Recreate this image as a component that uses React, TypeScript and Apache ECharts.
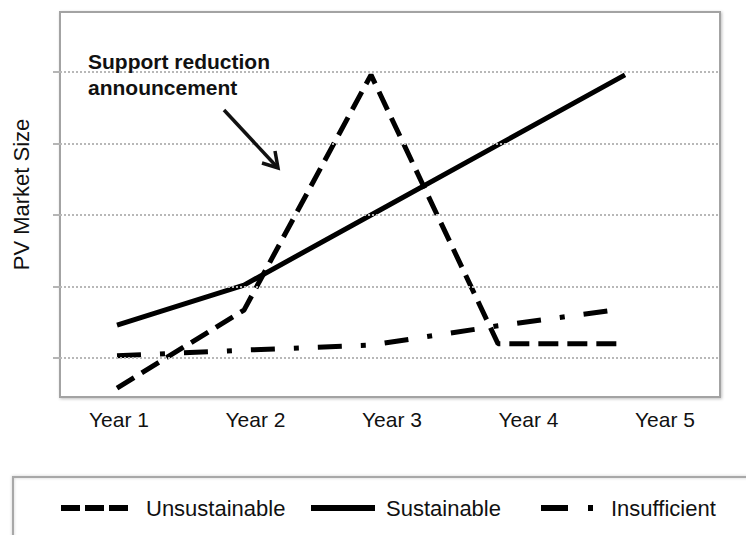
import React, { useEffect, useRef } from "react";
import * as echarts from "echarts";

const yearLabels = ["Year 1", "Year 2", "Year 3", "Year 4", "Year 5"];
const yearPositions = [1, 2, 3, 4, 5];
const unsustainable = [0.58, 1.67, 4.96, 1.2, 1.2];
const sustainable = [1.46, 2.02, 3.0, 3.98, 4.96];
const insufficient = [1.03, 1.11, 1.18, 1.45, 1.69];
const gridValues = [1, 2, 3, 4, 5];
const seriesNames = ["Unsustainable", "Sustainable", "Insufficient"];
const annotationText = "Support reduction\nannouncement";
const yAxisName = "PV Market Size";

const FONT = "'Liberation Sans', Arial, sans-serif";
const TEXT = "#111";

export default function App() {
  const ref = useRef<HTMLDivElement>(null);

  useEffect(() => {
    if (!ref.current) return;
    const chart = echarts.init(ref.current, undefined, { renderer: "svg" });
    const pts = (vals: number[]) => yearPositions.map((x, i) => [x, vals[i]]);
    const legendBase = (name: string, left: number, w: number, dash: any, padLeft: number) => ({
      data: [name],
      left,
      top: 497,
      padding: 0,
      itemGap: 0,
      itemWidth: w,
      itemHeight: 22,
      selectedMode: false,
      itemStyle: { opacity: 0, borderWidth: 0 },
      lineStyle: { type: dash, width: 6, color: "#000", cap: "butt", opacity: 1 },
      textStyle: { fontSize: 22, color: TEXT, fontFamily: FONT, padding: [0, 0, 0, padLeft] },
    });
    chart.setOption({
      animation: false,
      backgroundColor: "#fff",
      grid: {
        left: 60,
        right: 26,
        top: 12,
        bottom: 138,
        show: true,
        backgroundColor: "#fff",
        borderColor: "#a3a3a3",
        borderWidth: 2,
        shadowColor: "rgba(0,0,0,0.25)",
        shadowBlur: 3,
        shadowOffsetX: 1,
        shadowOffsetY: 1,
      },
      xAxis: [
        { type: "value", min: 0.551, max: 5.748, show: false },
        {
          type: "value",
          min: 0.568,
          max: 5.403,
          position: "bottom",
          axisLine: { show: false },
          axisTick: { show: false },
          splitLine: { show: false },
          axisLabel: {
            customValues: yearPositions,
            formatter: (v: number) => yearLabels[Math.round(v) - 1] ?? "",
            margin: 12,
            fontSize: 21,
            color: TEXT,
            fontFamily: FONT,
          },
        },
      ],
      yAxis: {
        type: "value",
        min: 0.4545,
        max: 5.839,
        axisLine: { show: false },
        axisLabel: { show: false },
        splitLine: { show: false },
        axisTick: { show: true, customValues: gridValues, length: 7, lineStyle: { color: "#b5b5b5", width: 2 } },
        name: yAxisName,
        nameLocation: "middle",
        nameGap: 28,
        nameTextStyle: { fontSize: 22, color: TEXT, fontFamily: FONT, padding: [0, 0, 0, 20] },
      },
      legend: [
        legendBase(seriesNames[0], 58, 67, [19, 5], 13),
        legendBase(seriesNames[1], 308, 64, "solid", 6),
        legendBase(seriesNames[2], 538, 52, [27, 20, 5, 20], 13),
      ],
      graphic: [
        {
          type: "rect",
          shape: { x: 13, y: 477, width: 820, height: 120 },
          style: { fill: "none", stroke: "#a8a8a8", lineWidth: 2, shadowColor: "rgba(0,0,0,0.2)", shadowBlur: 3 },
          silent: true,
          z: 0,
        },
        {
          type: "text",
          x: 88,
          y: 48,
          style: {
            text: annotationText,
            font: `bold 21px ${FONT}`,
            fill: TEXT,
            lineHeight: 26,
          },
          z: 10,
        },
        {
          type: "line",
          shape: { x1: 224, y1: 110, x2: 277, y2: 167 },
          style: { stroke: "#111", lineWidth: 3.5 },
          z: 10,
        },
        {
          type: "polyline",
          shape: { points: [[262, 163], [278, 168], [275, 151]] },
          style: { stroke: "#111", lineWidth: 3.5, fill: "none" },
          z: 10,
        },
      ],
      series: [
        {
          name: "gridlines",
          type: "line",
          data: [],
          z: 1,
          markLine: {
            silent: true,
            symbol: ["none", "none"],
            label: { show: false },
            lineStyle: { type: "dotted", color: "#b8b8b8", width: 2 },
            data: gridValues.map((v) => ({ yAxis: v })),
          },
        },
        {
          name: seriesNames[0],
          type: "line",
          xAxisIndex: 0,
          data: pts(unsustainable),
          symbol: "none",
          color: "#000",
          lineStyle: { color: "#000", width: 5, type: [20, 9] },
          z: 3,
        },
        {
          name: seriesNames[1],
          type: "line",
          xAxisIndex: 0,
          data: pts(sustainable),
          symbol: "none",
          color: "#000",
          lineStyle: { color: "#000", width: 5, type: "solid" },
          z: 3,
        },
        {
          name: seriesNames[2],
          type: "line",
          xAxisIndex: 0,
          data: pts(insufficient),
          symbol: "none",
          color: "#000",
          lineStyle: { color: "#000", width: 5, type: [24, 19, 5, 19] },
          z: 3,
        },
      ],
    });
    return () => chart.dispose();
  }, []);

  return (
    <div
      ref={ref}
      style={{ position: "fixed", left: 0, top: 0, width: 746, height: 535, background: "#fff" }}
    />
  );
}
